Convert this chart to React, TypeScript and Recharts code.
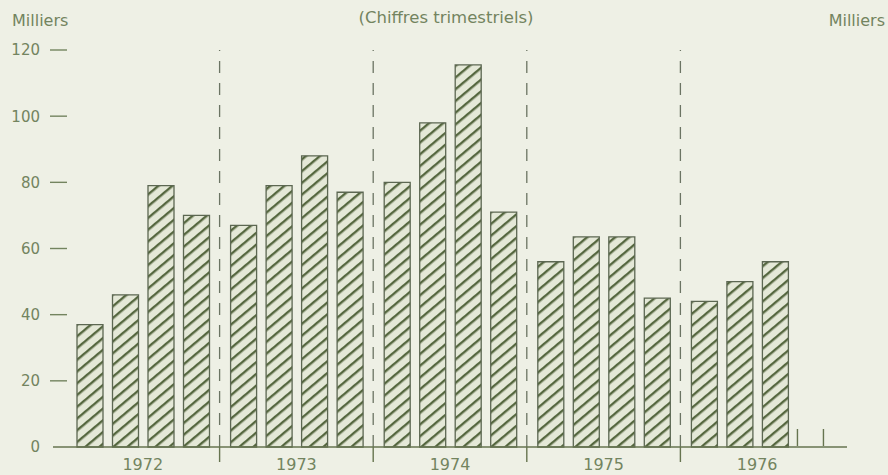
import React from "react";
import { Bar, BarChart, ReferenceLine, XAxis, YAxis } from "recharts";

document.body.style.margin = "0";

const YEARS = ["1972", "1973", "1974", "1975", "1976"];
const Q1 = [37, 67, 80, 56, 44];
const Q2 = [46, 79, 98, 63.5, 50];
const Q3 = [79, 88, 115.5, 63.5, 56];
const Q4: (number | null)[] = [70, 77, 71, 45, null];
const Y_TICKS = [0, 20, 40, 60, 80, 100, 120];

const rows = YEARS.map((year, i) => ({
  year,
  q1: Q1[i],
  q2: Q2[i],
  q3: Q3[i],
  q4: Q4[i],
}));

const BG = "#eef0e5";
const TEXT = "#73845f";
const AXIS = "#66744f";
const HATCH = "#55673f";
const FONT = "'DejaVu Sans', sans-serif";
const BAR_SIZE = 26;
const BAR_GAP = 9.5;

function LeftTick(props: any) {
  const { x, y, payload } = props;
  return (
    <g>
      {payload.value !== 0 && (
        <line x1={x - 3} x2={x + 14} y1={y} y2={y} stroke={TEXT} strokeWidth={1.4} />
      )}
      <text x={x - 13} y={y} dy="0.36em" textAnchor="end" fill={TEXT} fontSize={15} fontFamily={FONT}>
        {payload.value}
      </text>
    </g>
  );
}

function RightTick(props: any) {
  const { x, y, payload } = props;
  return (
    <g>
      {payload.value !== 0 && (
        <line x1={x - 17} x2={x + 1} y1={y} y2={y} stroke={TEXT} strokeWidth={1.4} />
      )}
      <text x={x + 36} y={y} dy="0.36em" textAnchor="end" fill={TEXT} fontSize={15} fontFamily={FONT}>
        {payload.value}
      </text>
    </g>
  );
}

// year label; for a year without a 4th quarter, two small ticks mark the empty slot
function YearTick(props: any) {
  const { x, y, payload, index } = props;
  const row = rows[index];
  const slotLeft = x + 1.5 * (BAR_SIZE + BAR_GAP) - BAR_SIZE / 2;
  return (
    <g>
      {row && row.q4 == null && (
        <g stroke={AXIS} strokeWidth={1.4}>
          <line x1={slotLeft} x2={slotLeft} y1={y - 18} y2={y - 1} />
          <line x1={slotLeft + BAR_SIZE} x2={slotLeft + BAR_SIZE} y1={y - 18} y2={y - 1} />
        </g>
      )}
      <text x={x} y={y + 23} textAnchor="middle" fill={TEXT} fontSize={16} fontFamily={FONT}>
        {payload.value}
      </text>
    </g>
  );
}

// dashed year separator, with a solid tick hanging below the axis
function YearEdge(props: any) {
  const { x1, y1, x2, y2 } = props;
  const bottom = Math.max(y1, y2);
  return (
    <g>
      <line x1={x1} y1={y1} x2={x2} y2={y2} stroke="#6b7463" strokeWidth={1.3} strokeDasharray="12 10" />
      <line x1={x2} x2={x2} y1={bottom} y2={bottom + 15} stroke={AXIS} strokeWidth={1.4} />
    </g>
  );
}

const barProps = {
  xAxisId: "year",
  yAxisId: "left",
  fill: "url(#hatch)",
  stroke: "#5c6752",
  strokeWidth: 1.3,
  isAnimationActive: false,
};

export default function App() {
  return (
    <div style={{ position: "relative", width: 888, height: 475, background: BG, overflow: "hidden" }}>
      <div style={{ position: "absolute", left: 12, top: 11, color: TEXT, fontFamily: FONT, fontSize: 16 }}>
        Milliers
      </div>
      <div style={{ position: "absolute", right: 3, top: 11, color: TEXT, fontFamily: FONT, fontSize: 16 }}>
        Milliers
      </div>
      <div
        style={{
          position: "absolute",
          left: 0,
          width: 892,
          top: 8,
          textAlign: "center",
          color: TEXT,
          fontFamily: FONT,
          fontSize: 16.5,
        }}
      >
        (Chiffres trimestriels)
      </div>
      <BarChart
        width={888}
        height={475}
        data={rows}
        margin={{ top: 50, right: 0, bottom: 0, left: 0 }}
        barSize={BAR_SIZE}
        barGap={BAR_GAP}
        style={{ position: "absolute", left: 0, top: 0 }}
      >
        <defs>
          <pattern id="hatch" patternUnits="userSpaceOnUse" width={9} height={9} patternTransform="rotate(50)">
            <rect width={9} height={9} fill="#e4e8d7" />
            <rect width={2.4} height={9} fill={HATCH} />
          </pattern>
        </defs>
        <XAxis
          xAxisId="year"
          dataKey="year"
          height={28}
          padding={{ left: 13, right: 13 }}
          axisLine={{ stroke: AXIS, strokeWidth: 1.6 }}
          tickLine={false}
          tickSize={0}
          tickMargin={0}
          interval={0}
          tick={<YearTick />}
        />
        <YAxis
          yAxisId="left"
          width={53}
          domain={[0, 120]}
          ticks={Y_TICKS}
          axisLine={false}
          tickLine={false}
          tickSize={0}
          tickMargin={0}
          tick={<LeftTick />}
        />
        <YAxis
          yAxisId="right"
          orientation="right"
          width={41}
          domain={[0, 120]}
          ticks={Y_TICKS}
          axisLine={false}
          tickLine={false}
          tickSize={0}
          tickMargin={0}
          tick={<RightTick />}
        />
        {YEARS.slice(1).map((year) => (
          <ReferenceLine
            key={year}
            xAxisId="year"
            yAxisId="left"
            x={year}
            position="start"
            stroke="#6b7463"
            shape={YearEdge}
          />
        ))}
        <Bar {...barProps} dataKey="q1" />
        <Bar {...barProps} dataKey="q2" />
        <Bar {...barProps} dataKey="q3" />
        <Bar {...barProps} dataKey="q4" />
      </BarChart>
    </div>
  );
}
